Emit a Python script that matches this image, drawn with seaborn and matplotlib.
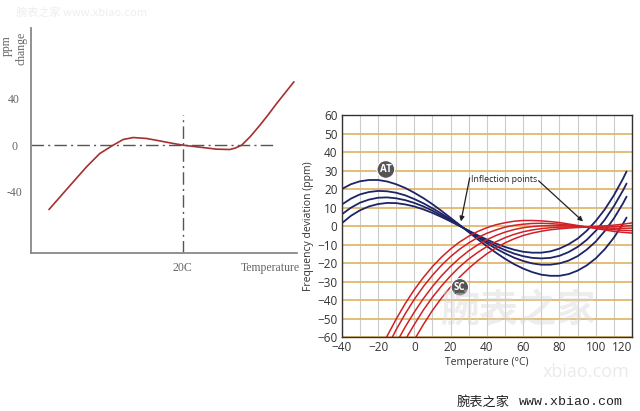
import numpy as np
import pandas as pd
import matplotlib
matplotlib.use("Agg")
import matplotlib.pyplot as plt
import seaborn as sns

# ---- left sketch: generic cubic drift around 20C ----
left_temp = [-50.4, -41.2, -30.7, -23.7, -16.7, -11.4, -6.2, 0.9, 7.9, 14.9,
             20.2, 28.9, 37.7, 44.7, 47.5, 50.9, 55.5, 60.5, 65.0, 69.3, 78.4]
left_ppm = [-55.4, -38.2, -18.7, -7.2, 0.0, 4.9, 6.6, 5.8, 3.7, 1.5,
            0.0, -1.7, -3.4, -3.7, -2.5, 0.0, 7.5, 17.2, 26.5, 35.9, 54.6]

# ---- right chart: AT cut (blue) and SC cut (red) families ----
at_temp = list(range(-40, 116, 5)) + [117]
at_curves = {
    "AT1": [20.0, 22.6, 24.2, 24.9, 24.9, 24.1, 22.6, 20.6, 18.0, 15.1, 11.8, 8.2, 4.4, 0.6, -3.3, -7.2,
            -10.9, -14.4, -17.7, -20.6, -23.0, -24.9, -26.3, -26.9, -26.9, -26.0, -24.1, -21.3, -17.5,
            -12.5, -6.3, 1.2, 4.6],
    "AT2": [11.6, 14.8, 17.1, 18.4, 19.0, 18.8, 18.0, 16.6, 14.6, 12.3, 9.6, 6.7, 3.6, 0.3, -3.0, -6.2,
            -9.3, -12.2, -14.8, -17.1, -18.9, -20.2, -20.9, -20.9, -20.2, -18.7, -16.3, -12.8, -8.4,
            -2.7, 4.1, 12.2, 15.9],
    "AT3": [6.3, 9.9, 12.6, 14.3, 15.3, 15.5, 15.0, 14.0, 12.5, 10.6, 8.3, 5.7, 3.0, 0.2, -2.7, -5.6,
            -8.3, -10.8, -13.0, -14.9, -16.3, -17.2, -17.5, -17.2, -16.1, -14.1, -11.3, -7.5, -2.6,
            3.4, 10.7, 19.2, 23.0],
    "AT4": [1.5, 5.5, 8.5, 10.6, 11.9, 12.5, 12.4, 11.7, 10.6, 9.0, 7.1, 4.9, 2.5, 0.0, -2.5, -5.0,
            -7.3, -9.5, -11.3, -12.8, -13.9, -14.4, -14.4, -13.7, -12.2, -9.9, -6.8, -2.6, 2.7,
            9.0, 16.6, 25.5, 29.5],
}

nan = np.nan
sc_temp = list(range(-20, 121, 5))
sc_curves = {
    "SC1": [-69.8, -59.5, -50.3, -41.9, -34.4, -27.8, -21.9, -16.8, -12.4, -8.6, -5.5, -2.9, -0.9, 0.7,
            1.8, 2.6, 3.0, 3.0, 2.8, 2.4, 1.9, 1.1, 0.3, -0.5, -1.3, -2.1, -2.9, -3.4, -3.8],
    "SC2": [nan, -65.6, -56.0, -47.4, -39.6, -32.7, -26.6, -21.2, -16.5, -12.5, -9.1, -6.2, -3.9, -2.1,
            -0.6, 0.4, 1.0, 1.4, 1.5, 1.3, 1.0, 0.6, 0.1, -0.5, -1.1, -1.6, -2.0, -2.3, -2.5],
    "SC3": [nan, nan, -63.3, -54.5, -46.5, -39.2, -32.7, -26.9, -21.8, -17.3, -13.4, -10.1, -7.4, -5.1,
            -3.3, -1.9, -0.9, -0.3, 0.1, 0.2, 0.2, 0.0, -0.2, -0.5, -0.8, -1.0, -1.2, -1.2, -1.1],
    "SC4": [nan, nan, nan, -61.5, -53.2, -45.4, -38.5, -32.4, -26.9, -22.0, -17.8, -14.2, -11.1, -8.5,
            -6.3, -4.5, -3.1, -2.1, -1.4, -0.9, -0.6, -0.5, -0.5, -0.5, -0.5, -0.5, -0.4, -0.1, 0.3],
    "SC5": [nan, nan, nan, nan, -61.5, -53.2, -45.6, -38.9, -32.9, -27.6, -22.9, -18.7, -15.0, -11.8,
            -9.1, -6.9, -5.1, -3.8, -2.8, -2.0, -1.5, -1.1, -0.8, -0.5, -0.2, 0.1, 0.5, 1.0, 1.7],
}

at_df = pd.DataFrame([(t, v, k) for k, vals in at_curves.items() for t, v in zip(at_temp, vals)],
                     columns=["temp", "ppm", "curve"])
sc_df = pd.DataFrame([(t, v, k) for k, vals in sc_curves.items() for t, v in zip(sc_temp, vals)],
                     columns=["temp", "ppm", "curve"]).dropna()

sns.set_theme(style="white")
plt.rcParams["font.family"] = ["Open Sans", "Noto Sans CJK SC", "DejaVu Sans"]

fig = plt.figure(figsize=(6.4, 4.11), dpi=100)

# left panel
axL = fig.add_axes([0.048, 0.384, 0.416, 0.548])
sns.lineplot(x=left_temp, y=left_ppm, ax=axL, color="#a5302f", lw=1.2, sort=False)
axL.set_xlim(-60, 80)
axL.set_ylim(-93, 101)
axL.axhline(0, xmin=0, xmax=0.91, color="#555555", lw=1.0, ls=(0, (9, 3, 1.5, 3)))
axL.axvline(20, ymin=0, ymax=0.615, color="#555555", lw=1.0, ls=(0, (9, 3, 1.5, 3)))
for s in ["top", "right"]:
    axL.spines[s].set_visible(False)
for s in ["left", "bottom"]:
    axL.spines[s].set_color("#888888")
    axL.spines[s].set_linewidth(1.3)
serif = ["Liberation Serif", "DejaVu Serif"]
axL.set_yticks([40, 0, -40])
axL.set_yticklabels(["40", "0", "-40"], family=serif, fontsize=8.5, color="#666666")
for lbl in axL.get_yticklabels():
    lbl.set_horizontalalignment("center")
axL.set_xticks([20, 66])
axL.set_xticklabels(["20C", "Temperature"], family=serif, fontsize=8.5, color="#666666")
axL.tick_params(axis="y", length=0, pad=12)
axL.tick_params(axis="x", length=0, pad=6)
fig.text(0.011, 0.89, "ppm", rotation=90, ha="center", va="center",
         family=serif, fontsize=8.5, color="#666666")
fig.text(0.034, 0.883, "change", rotation=90, ha="center", va="center",
         family=serif, fontsize=8.5, color="#666666")

# right panel
axR = fig.add_axes([0.534, 0.180, 0.4535, 0.540])
axR.set_axisbelow(True)
sns.lineplot(data=at_df, x="temp", y="ppm", hue="curve", ax=axR,
             palette=["#1d2467"] * 4, lw=1.3, legend=False)
sns.lineplot(data=sc_df, x="temp", y="ppm", hue="curve", ax=axR,
             palette=["#cf2127"] * 5, lw=1.1, legend=False)
axR.set_xlim(-40, 120)
axR.set_ylim(-60, 60)
axR.set_xticks(range(-40, 121, 20))
axR.set_xticks(range(-40, 121, 10), minor=True)
axR.set_yticks(range(-60, 61, 10))
axR.xaxis.grid(True, which="both", color="#cccccc", lw=0.8)
axR.yaxis.grid(True, color="#e2b76e", lw=1.3)
for s in axR.spines.values():
    s.set_color("#333333")
    s.set_linewidth(1.0)
axR.tick_params(axis="both", which="both", length=0, labelsize=8.5, labelcolor="#333333", pad=3)
axR.get_xticklabels()[-1].set_horizontalalignment("right")
axR.set_xlabel("Temperature (°C)", fontsize=7.5, color="#333333", labelpad=2)
axR.set_ylabel("Frequency deviation (ppm)", fontsize=7.5, color="#333333", labelpad=2)

badge = dict(boxstyle="circle,pad=0.3", fc="#555555", ec="white", lw=0.8)
axR.text(-15.7, 30.6, "AT", ha="center", va="center", color="white", fontsize=7,
         fontweight="bold", bbox=badge)
axR.text(25.1, -33.1, "SC", ha="center", va="center", color="white", fontsize=7,
         fontweight="bold", bbox=badge)
axR.text(49.4, 25.2, "Inflection points", ha="center", va="center", fontsize=6.3, color="#222222")
arrow = dict(arrowstyle="-|>", color="#222222", lw=0.9, mutation_scale=7, shrinkA=0, shrinkB=0)
axR.annotate("", xy=(25.7, 2.5), xytext=(30.5, 26.0), arrowprops=arrow)
axR.annotate("", xy=(93.0, 2.5), xytext=(68.5, 24.5), arrowprops=arrow)

# watermark
axR.text(57, -46, "腕表之家", ha="center", va="center", fontsize=28, fontweight="bold",
         color="#d8d8d8", alpha=0.45, family=["Noto Sans CJK SC"])
fig.text(0.915, 0.095, "xbiao.com", ha="center", va="center", fontsize=13,
         color="#dddddd", alpha=0.6)
fig.text(0.714, 0.022, "腕表之家", ha="left", va="center", fontsize=9.5,
         color="#222222", family=["Noto Sans CJK SC"])
fig.text(0.81, 0.022, "www.xbiao.com", ha="left", va="center", fontsize=9.5,
         color="#222222", family=["Liberation Mono", "DejaVu Sans Mono"])
fig.text(0.025, 0.97, "腕表之家 www.xbiao.com", ha="left", va="center", fontsize=8,
         color="#eeeeee", family=["Noto Sans CJK SC", "DejaVu Sans"])

fig.savefig("out.png", dpi=100)
